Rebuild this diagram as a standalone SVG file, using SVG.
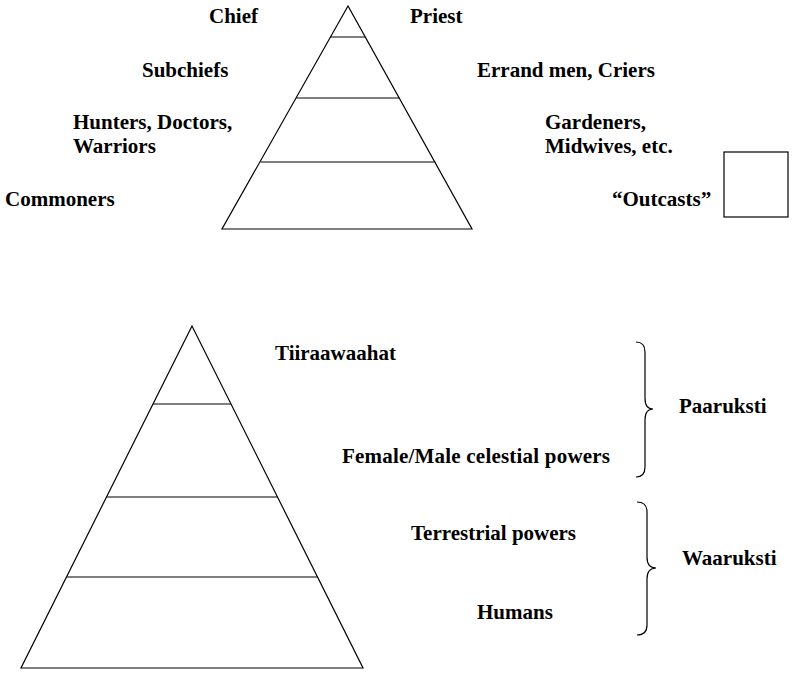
<svg xmlns="http://www.w3.org/2000/svg" width="793" height="675" viewBox="0 0 793 675">
<style>
text{font-family:'Liberation Serif','Times New Roman',Times,serif;font-weight:700;font-size:21px;fill:#000}
.ln{fill:none;stroke:#000;stroke-width:1.2}
</style>
<rect width="793" height="675" fill="#fff"/>
<g id="social-pyramid">
<polygon class="ln" points="348,6 222,229 472,229"/>
<line class="ln" x1="330.6" y1="37" x2="365.4" y2="37"/>
<line class="ln" x1="296.4" y1="98" x2="399.6" y2="98"/>
<line class="ln" x1="260.6" y1="162" x2="435.4" y2="162"/>
</g>
<g id="tier-1">
<text x="209" y="23">Chief</text>
<text x="410" y="23">Priest</text>
</g>
<g id="tier-2">
<text x="142" y="77">Subchiefs</text>
<text x="477" y="77">Errand men, Criers</text>
</g>
<g id="tier-3">
<text x="73" y="129">Hunters, Doctors,</text>
<text x="73" y="153">Warriors</text>
<text x="545" y="129">Gardeners,</text>
<text x="545" y="153">Midwives, etc.</text>
</g>
<g id="tier-4">
<text x="5" y="206">Commoners</text>
<text x="612" y="206">“Outcasts”</text>
</g>
<g id="outcasts-box">
<rect class="ln" x="724" y="152" width="64" height="65"/>
</g>
<g id="cosmic-pyramid">
<polygon class="ln" points="192,326 21,668 363,668"/>
<line class="ln" x1="153" y1="404" x2="231" y2="404"/>
<line class="ln" x1="106.5" y1="497" x2="277.5" y2="497"/>
<line class="ln" x1="66.5" y1="577" x2="317.5" y2="577"/>
</g>
<g id="level-tiiraawaahat"><text x="275" y="360">Tiiraawaahat</text></g>
<g id="level-celestial"><text x="342" y="463" textLength="268" lengthAdjust="spacing">Female/Male celestial powers</text></g>
<g id="level-terrestrial"><text x="411" y="540">Terrestrial powers</text></g>
<g id="level-humans"><text x="477" y="619">Humans</text></g>
<g id="group-paaruksti"><text x="679" y="413">Paaruksti</text></g>
<g id="group-waaruksti"><text x="682" y="565">Waaruksti</text></g>
<g id="connectors">
<path class="ln" d="M636,342 Q645,342 645,352 L645,398 Q645,409 653,409 Q645,409 645,420 L645,467 Q645,477 636,477"/>
<path class="ln" d="M637,502 Q647,502 647,512 L647,557 Q647,568 656,568 Q647,568 647,579 L647,625 Q647,635 637,635"/>
</g>
</svg>
